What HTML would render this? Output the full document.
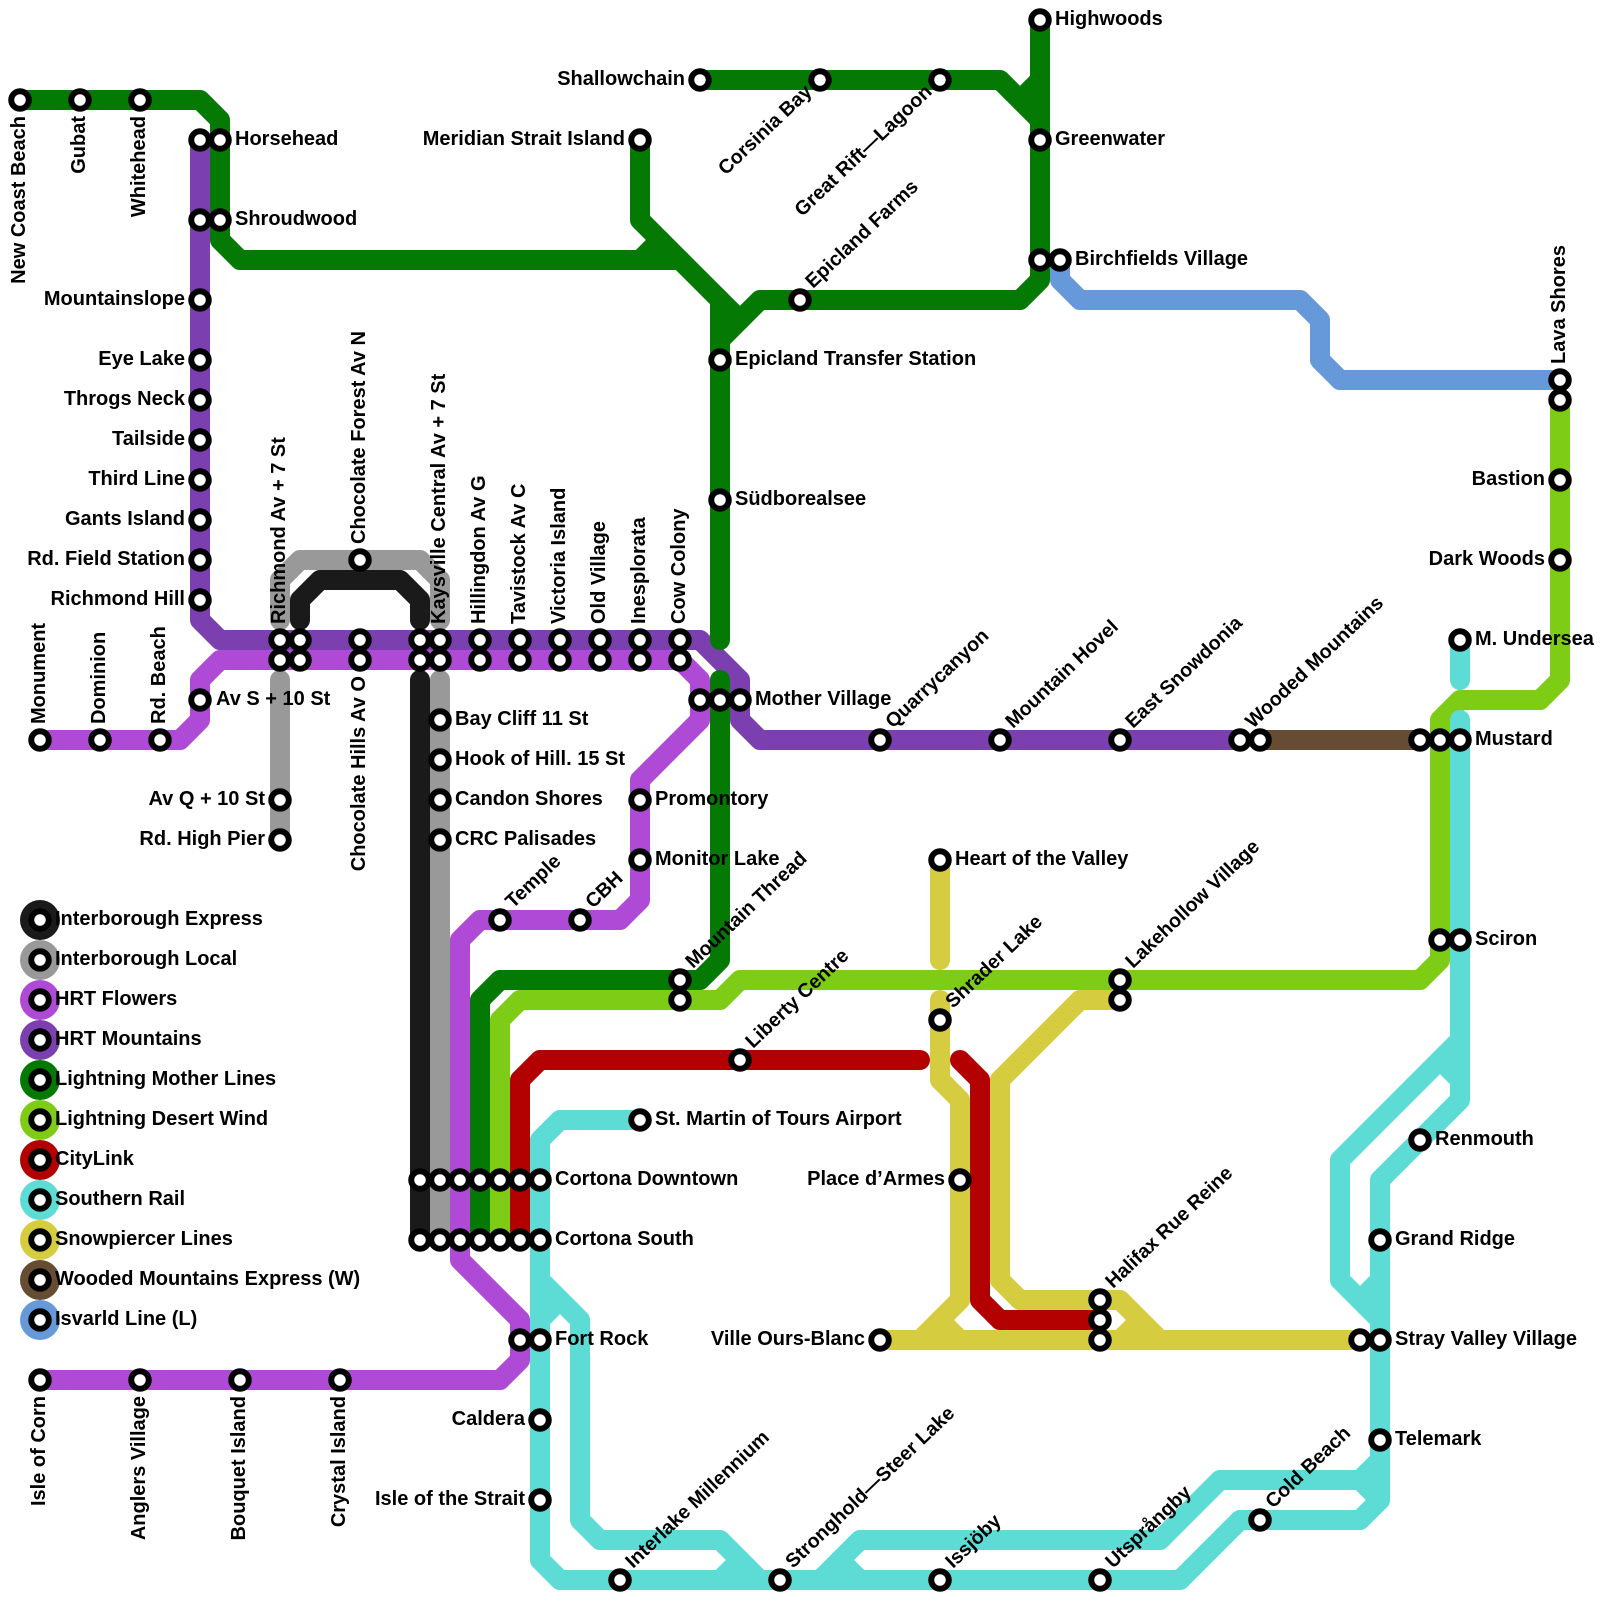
<!DOCTYPE html>
<html><head><meta charset="utf-8"><title>Transit map</title>
<style>html,body{margin:0;padding:0;background:#fff}svg{display:block}
.l polyline{fill:none;stroke-width:20;stroke-linecap:round;stroke-linejoin:round}
.s circle{fill:#fff;stroke:#000;stroke-width:6}
text{font-family:"Liberation Sans",sans-serif;font-weight:bold;font-size:20px;fill:#000}
.e{text-anchor:end}
.d text{font-size:19.7px}
</style></head><body>
<svg xmlns="http://www.w3.org/2000/svg" width="1600" height="1600" viewBox="0 0 1600 1600">
<rect width="1600" height="1600" fill="#fff"/>
<g>
<circle cx="40" cy="920" r="20" fill="#1a1a1a"/><circle cx="40" cy="960" r="20" fill="#999"/><circle cx="40" cy="1000" r="20" fill="#ae4ad6"/><circle cx="40" cy="1040" r="20" fill="#7c3fb0"/><circle cx="40" cy="1080" r="20" fill="#047a04"/><circle cx="40" cy="1120" r="20" fill="#7fcc17"/><circle cx="40" cy="1160" r="20" fill="#b30000"/><circle cx="40" cy="1200" r="20" fill="#5ddcd5"/><circle cx="40" cy="1240" r="20" fill="#d6cc40"/><circle cx="40" cy="1280" r="20" fill="#654c32"/><circle cx="40" cy="1320" r="20" fill="#6699d9"/>
</g>
<g class="l">
<g stroke="#1a1a1a"><polyline points="420,1240 420,680"/><polyline points="300,620 300,600 320,580 400,580 420,600 420,620"/></g>
<g stroke="#999"><polyline points="280,840 280,680"/><polyline points="280,620 280,580 300,560 420,560 440,580 440,620"/><polyline points="440,680 440,1240"/></g>
<g stroke="#ae4ad6"><polyline points="40,740 180,740 200,720 200,680 220,660 680,660 700,680 700,720 640,780 640,900 620,920 480,920 460,940 460,1260 520,1320 520,1360 500,1380 40,1380"/></g>
<g stroke="#7c3fb0"><polyline points="200,140 200,620 220,640 700,640 740,680 740,720 760,740 1240,740"/></g>
<g stroke="#047a04"><polyline points="20,100 200,100 220,120 220,240 240,260 680,260"/><polyline points="640,260 660,240"/><polyline points="640,140 640,220 740,320"/><polyline points="720,300 720,640"/><polyline points="720,340 760,300 1020,300 1040,280 1040,120 1000,80 700,80"/><polyline points="1020,100 1040,80"/><polyline points="1040,20 1040,120"/><polyline points="720,680 720,960 700,980 500,980 480,1000 480,1240"/></g>
<g stroke="#7fcc17"><polyline points="500,1240 500,1020 520,1000 720,1000 740,980 1420,980 1440,960 1440,720 1460,700 1540,700 1560,680 1560,400"/></g>
<g stroke="#b30000"><polyline points="520,1240 520,1080 540,1060 920,1060"/><polyline points="960,1060 980,1080 980,1300 1000,1320 1100,1320"/></g>
<g stroke="#5ddcd5"><polyline points="640,1120 560,1120 540,1140 540,1560 560,1580 1180,1580 1240,1520 1360,1520 1380,1500 1380,1180 1460,1100 1460,720"/><polyline points="540,1280 580,1320 580,1520 600,1540 720,1540 760,1580"/><polyline points="540,1320 560,1300"/><polyline points="720,1580 740,1560"/><polyline points="820,1580 860,1540 1160,1540 1220,1480 1360,1480 1380,1460"/><polyline points="840,1560 860,1580"/><polyline points="1360,1480 1380,1500"/><polyline points="1460,1080 1440,1060 1340,1160 1340,1280 1380,1320"/><polyline points="1440,1060 1460,1040"/><polyline points="1360,1300 1380,1280"/><polyline points="1460,640 1460,680"/></g>
<g stroke="#d6cc40"><polyline points="940,860 940,960"/><polyline points="940,1000 940,1080 960,1100 960,1300 920,1340"/><polyline points="880,1340 1360,1340"/><polyline points="940,1320 960,1340"/><polyline points="1120,1000 1080,1000 1000,1080 1000,1280 1020,1300 1120,1300 1160,1340"/><polyline points="1140,1320 1120,1340"/></g>
<g stroke="#654c32"><polyline points="1260,740 1420,740"/></g>
<g stroke="#6699d9"><polyline points="1060,260 1060,280 1080,300 1300,300 1320,320 1320,360 1340,380 1560,380"/></g>
</g>
<g class="s">
<circle cx="40" cy="920" r="8.75"/><circle cx="40" cy="960" r="8.75"/><circle cx="40" cy="1000" r="8.75"/><circle cx="40" cy="1040" r="8.75"/><circle cx="40" cy="1080" r="8.75"/><circle cx="40" cy="1120" r="8.75"/><circle cx="40" cy="1160" r="8.75"/><circle cx="40" cy="1200" r="8.75"/><circle cx="40" cy="1240" r="8.75"/><circle cx="40" cy="1280" r="8.75"/><circle cx="40" cy="1320" r="8.75"/>
<circle cx="20" cy="100" r="8.75"/><circle cx="80" cy="100" r="8.75"/><circle cx="140" cy="100" r="8.75"/>
<circle cx="200" cy="140" r="8.75"/><circle cx="220" cy="140" r="8.75"/><circle cx="200" cy="220" r="8.75"/><circle cx="220" cy="220" r="8.75"/>
<circle cx="200" cy="300" r="8.75"/><circle cx="200" cy="360" r="8.75"/><circle cx="200" cy="400" r="8.75"/><circle cx="200" cy="440" r="8.75"/><circle cx="200" cy="480" r="8.75"/><circle cx="200" cy="520" r="8.75"/><circle cx="200" cy="560" r="8.75"/><circle cx="200" cy="600" r="8.75"/>
<circle cx="40" cy="740" r="8.75"/><circle cx="100" cy="740" r="8.75"/><circle cx="160" cy="740" r="8.75"/><circle cx="200" cy="700" r="8.75"/>
<circle cx="280" cy="640" r="8.75"/><circle cx="280" cy="660" r="8.75"/><circle cx="300" cy="640" r="8.75"/><circle cx="300" cy="660" r="8.75"/><circle cx="360" cy="640" r="8.75"/><circle cx="360" cy="660" r="8.75"/><circle cx="420" cy="640" r="8.75"/><circle cx="420" cy="660" r="8.75"/><circle cx="440" cy="640" r="8.75"/><circle cx="440" cy="660" r="8.75"/><circle cx="480" cy="640" r="8.75"/><circle cx="480" cy="660" r="8.75"/><circle cx="520" cy="640" r="8.75"/><circle cx="520" cy="660" r="8.75"/><circle cx="560" cy="640" r="8.75"/><circle cx="560" cy="660" r="8.75"/><circle cx="600" cy="640" r="8.75"/><circle cx="600" cy="660" r="8.75"/><circle cx="640" cy="640" r="8.75"/><circle cx="640" cy="660" r="8.75"/><circle cx="680" cy="640" r="8.75"/><circle cx="680" cy="660" r="8.75"/>
<circle cx="360" cy="560" r="8.75"/><circle cx="280" cy="800" r="8.75"/><circle cx="280" cy="840" r="8.75"/>
<circle cx="440" cy="720" r="8.75"/><circle cx="440" cy="760" r="8.75"/><circle cx="440" cy="800" r="8.75"/><circle cx="440" cy="840" r="8.75"/>
<circle cx="500" cy="920" r="8.75"/><circle cx="580" cy="920" r="8.75"/><circle cx="640" cy="800" r="8.75"/><circle cx="640" cy="860" r="8.75"/>
<circle cx="700" cy="700" r="8.75"/><circle cx="720" cy="700" r="8.75"/><circle cx="740" cy="700" r="8.75"/>
<circle cx="880" cy="740" r="8.75"/><circle cx="1000" cy="740" r="8.75"/><circle cx="1120" cy="740" r="8.75"/><circle cx="1240" cy="740" r="8.75"/><circle cx="1260" cy="740" r="8.75"/><circle cx="1420" cy="740" r="8.75"/><circle cx="1440" cy="740" r="8.75"/><circle cx="1460" cy="740" r="8.75"/>
<circle cx="640" cy="140" r="8.75"/><circle cx="700" cy="80" r="8.75"/><circle cx="820" cy="80" r="8.75"/><circle cx="940" cy="80" r="8.75"/><circle cx="1040" cy="20" r="8.75"/><circle cx="1040" cy="140" r="8.75"/><circle cx="1040" cy="260" r="8.75"/><circle cx="1060" cy="260" r="8.75"/><circle cx="800" cy="300" r="8.75"/><circle cx="720" cy="360" r="8.75"/><circle cx="720" cy="500" r="8.75"/>
<circle cx="1560" cy="380" r="8.75"/><circle cx="1560" cy="400" r="8.75"/><circle cx="1560" cy="480" r="8.75"/><circle cx="1560" cy="560" r="8.75"/>
<circle cx="1460" cy="640" r="8.75"/><circle cx="1440" cy="940" r="8.75"/><circle cx="1460" cy="940" r="8.75"/>
<circle cx="680" cy="980" r="8.75"/><circle cx="680" cy="1000" r="8.75"/><circle cx="1120" cy="980" r="8.75"/><circle cx="1120" cy="1000" r="8.75"/>
<circle cx="740" cy="1060" r="8.75"/><circle cx="940" cy="860" r="8.75"/><circle cx="940" cy="1020" r="8.75"/><circle cx="960" cy="1180" r="8.75"/><circle cx="640" cy="1120" r="8.75"/>
<circle cx="420" cy="1180" r="8.75"/><circle cx="440" cy="1180" r="8.75"/><circle cx="460" cy="1180" r="8.75"/><circle cx="480" cy="1180" r="8.75"/><circle cx="500" cy="1180" r="8.75"/><circle cx="520" cy="1180" r="8.75"/><circle cx="540" cy="1180" r="8.75"/>
<circle cx="420" cy="1240" r="8.75"/><circle cx="440" cy="1240" r="8.75"/><circle cx="460" cy="1240" r="8.75"/><circle cx="480" cy="1240" r="8.75"/><circle cx="500" cy="1240" r="8.75"/><circle cx="520" cy="1240" r="8.75"/><circle cx="540" cy="1240" r="8.75"/>
<circle cx="520" cy="1340" r="8.75"/><circle cx="540" cy="1340" r="8.75"/><circle cx="540" cy="1420" r="8.75"/><circle cx="540" cy="1500" r="8.75"/>
<circle cx="40" cy="1380" r="8.75"/><circle cx="140" cy="1380" r="8.75"/><circle cx="240" cy="1380" r="8.75"/><circle cx="340" cy="1380" r="8.75"/>
<circle cx="620" cy="1580" r="8.75"/><circle cx="780" cy="1580" r="8.75"/><circle cx="940" cy="1580" r="8.75"/><circle cx="1100" cy="1580" r="8.75"/><circle cx="1260" cy="1520" r="8.75"/>
<circle cx="880" cy="1340" r="8.75"/><circle cx="1100" cy="1300" r="8.75"/><circle cx="1100" cy="1320" r="8.75"/><circle cx="1100" cy="1340" r="8.75"/><circle cx="1360" cy="1340" r="8.75"/><circle cx="1380" cy="1340" r="8.75"/>
<circle cx="1380" cy="1240" r="8.75"/><circle cx="1380" cy="1440" r="8.75"/><circle cx="1420" cy="1140" r="8.75"/>
</g>
<g>
<text x="55" y="925">Interborough Express</text><text x="55" y="965">Interborough Local</text><text x="55" y="1005">HRT Flowers</text><text x="55" y="1045">HRT Mountains</text><text x="55" y="1085">Lightning Mother Lines</text><text x="55" y="1125">Lightning Desert Wind</text><text x="55" y="1165">CityLink</text><text x="55" y="1205">Southern Rail</text><text x="55" y="1245">Snowpiercer Lines</text><text x="55" y="1285">Wooded Mountains Express (W)</text><text x="55" y="1325">Isvarld Line (L)</text>
<text x="235" y="145">Horsehead</text><text x="235" y="225">Shroudwood</text><text x="735" y="365">Epicland Transfer Station</text><text x="735" y="505">Südborealsee</text><text x="1055" y="25">Highwoods</text><text x="1055" y="145">Greenwater</text><text x="1075" y="265">Birchfields Village</text><text x="216" y="705">Av S + 10 St</text><text x="455" y="725">Bay Cliff 11 St</text><text x="455" y="765">Hook of Hill. 15 St</text><text x="455" y="805">Candon Shores</text><text x="455" y="845">CRC Palisades</text><text x="755" y="705">Mother Village</text><text x="655" y="805">Promontory</text><text x="655" y="865">Monitor Lake</text><text x="1475" y="645">M. Undersea</text><text x="1475" y="745">Mustard</text><text x="1475" y="945">Sciron</text><text x="955" y="865">Heart of the Valley</text><text x="655" y="1125">St. Martin of Tours Airport</text><text x="555" y="1185">Cortona Downtown</text><text x="555" y="1245">Cortona South</text><text x="555" y="1345">Fort Rock</text><text x="1435" y="1145">Renmouth</text><text x="1395" y="1245">Grand Ridge</text><text x="1395" y="1345">Stray Valley Village</text><text x="1395" y="1445">Telemark</text>
<g class="e"><text x="685" y="85">Shallowchain</text><text x="625" y="145">Meridian Strait Island</text><text x="185" y="305">Mountainslope</text><text x="185" y="365">Eye Lake</text><text x="185" y="405">Throgs Neck</text><text x="185" y="445">Tailside</text><text x="185" y="485">Third Line</text><text x="185" y="525">Gants Island</text><text x="185" y="565">Rd. Field Station</text><text x="185" y="605">Richmond Hill</text><text x="265" y="805">Av Q + 10 St</text><text x="265" y="845">Rd. High Pier</text><text x="1545" y="485">Bastion</text><text x="1545" y="565">Dark Woods</text><text x="945" y="1185">Place d’Armes</text><text x="865" y="1345">Ville Ours-Blanc</text><text x="525" y="1425">Caldera</text><text x="525" y="1505">Isle of the Strait</text>
<text transform="translate(25,116) rotate(-90)">New Coast Beach</text><text transform="translate(85,116) rotate(-90)">Gubat</text><text transform="translate(145,116) rotate(-90)">Whitehead</text><text transform="translate(365,676) rotate(-90)">Chocolate Hills Av O</text><text transform="translate(45,1396) rotate(-90)">Isle of Corn</text><text transform="translate(145,1396) rotate(-90)">Anglers Village</text><text transform="translate(245,1396) rotate(-90)">Bouquet Island</text><text transform="translate(345,1396) rotate(-90)">Crystal Island</text>
<g class="d"><text transform="translate(813,93) rotate(-43.5)">Corsinia Bay</text><text transform="translate(933,93) rotate(-43.5)">Great Rift—Lagoon</text></g>
</g>
<text transform="translate(45,724) rotate(-90)">Monument</text><text transform="translate(105,724) rotate(-90)">Dominion</text><text transform="translate(165,724) rotate(-90)">Rd. Beach</text><text transform="translate(285,624) rotate(-90)">Richmond Av + 7 St</text><text transform="translate(365,544) rotate(-90)">Chocolate Forest Av N</text><text transform="translate(445,624) rotate(-90)">Kaysville Central Av + 7 St</text><text transform="translate(485,624) rotate(-90)">Hillingdon Av G</text><text transform="translate(525,624) rotate(-90)">Tavistock Av C</text><text transform="translate(565,624) rotate(-90)">Victoria Island</text><text transform="translate(605,624) rotate(-90)">Old Village</text><text transform="translate(645,624) rotate(-90)">Inesplorata</text><text transform="translate(685,624) rotate(-90)">Cow Colony</text><text transform="translate(1565,364) rotate(-90)">Lava Shores</text>
<g class="d"><text transform="translate(813,289) rotate(-43.5)">Epicland Farms</text><text transform="translate(513,909) rotate(-43.5)">Temple</text><text transform="translate(593,909) rotate(-43.5)">CBH</text><text transform="translate(693,969) rotate(-43.5)">Mountain Thread</text><text transform="translate(753,1049) rotate(-43.5)">Liberty Centre</text><text transform="translate(953,1009) rotate(-43.5)">Shrader Lake</text><text transform="translate(1133,969) rotate(-43.5)">Lakehollow Village</text><text transform="translate(893,729) rotate(-43.5)">Quarrycanyon</text><text transform="translate(1013,729) rotate(-43.5)">Mountain Hovel</text><text transform="translate(1133,729) rotate(-43.5)">East Snowdonia</text><text transform="translate(1253,729) rotate(-43.5)">Wooded Mountains</text><text transform="translate(1113,1289) rotate(-43.5)">Halifax Rue Reine</text><text transform="translate(633,1569) rotate(-43.5)">Interlake Millennium</text><text transform="translate(793,1569) rotate(-43.5)">Stronghold—Steer Lake</text><text transform="translate(953,1569) rotate(-43.5)">Issjöby</text><text transform="translate(1113,1569) rotate(-43.5)">Utsprångby</text><text transform="translate(1273,1509) rotate(-43.5)">Cold Beach</text></g>
</g>
</svg>
</body></html>
